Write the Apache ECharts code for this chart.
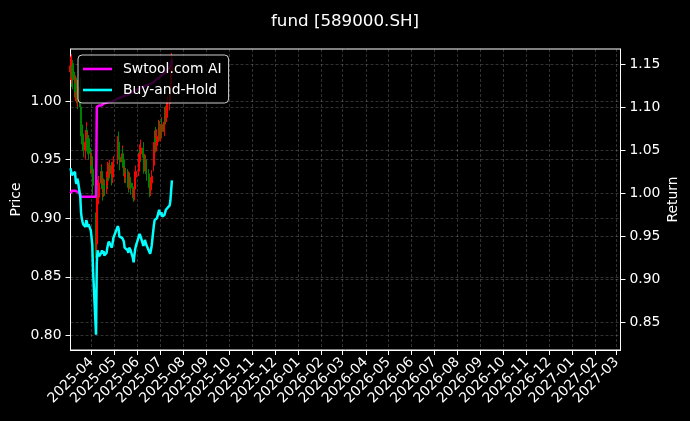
<!DOCTYPE html>
<html><head><meta charset="utf-8">
<script src="https://cdn.jsdelivr.net/npm/echarts@6/dist/echarts.min.js"></script>
<style>html,body{margin:0;padding:0;background:#000;}#c{width:690px;height:421px;}</style>
</head><body><div id="c"></div>
<script>
// ---- data ----
const tradeDates = [
'2025-03-04','2025-03-05','2025-03-06','2025-03-07',
'2025-03-10','2025-03-11','2025-03-12','2025-03-13','2025-03-14',
'2025-03-17','2025-03-18','2025-03-19','2025-03-20','2025-03-21',
'2025-03-24','2025-03-25','2025-03-26','2025-03-27','2025-03-28',
'2025-03-31','2025-04-01','2025-04-02','2025-04-03',
'2025-04-07','2025-04-08','2025-04-09','2025-04-10','2025-04-11',
'2025-04-14','2025-04-15','2025-04-16','2025-04-17','2025-04-18',
'2025-04-21','2025-04-22','2025-04-23','2025-04-24','2025-04-25',
'2025-04-28','2025-04-29','2025-04-30',
'2025-05-06','2025-05-07','2025-05-08','2025-05-09',
'2025-05-12','2025-05-13','2025-05-14','2025-05-15','2025-05-16',
'2025-05-19','2025-05-20','2025-05-21','2025-05-22','2025-05-23',
'2025-05-26','2025-05-27','2025-05-28','2025-05-29','2025-05-30',
'2025-06-03','2025-06-04','2025-06-05','2025-06-06',
'2025-06-09','2025-06-10','2025-06-11','2025-06-12','2025-06-13',
'2025-06-16','2025-06-17','2025-06-18','2025-06-19','2025-06-20',
'2025-06-23','2025-06-24','2025-06-25','2025-06-26','2025-06-27',
'2025-06-30','2025-07-01','2025-07-02','2025-07-03','2025-07-04',
'2025-07-07','2025-07-08','2025-07-09','2025-07-10','2025-07-11',
'2025-07-14','2025-07-15','2025-07-16','2025-07-17'];

const openPrice = [
1.025,1.030,1.020,1.032,
1.018,1.010,1.015,1.008,1.000,
1.012,0.995,0.978,0.972,0.965,
0.958,0.965,0.975,0.962,0.968,
0.955,0.945,0.950,0.942,
0.900,0.878,0.915,0.928,0.918,
0.930,0.940,0.932,0.922,0.928,
0.925,0.935,0.932,0.942,0.938,
0.945,0.935,0.940,
0.950,0.965,0.958,0.952,
0.948,0.955,0.950,0.942,0.935,
0.938,0.932,0.928,0.935,0.930,
0.926,0.922,0.918,0.925,0.935,
0.940,0.950,0.958,0.955,
0.960,0.952,0.945,0.950,0.944,
0.938,0.932,0.928,0.924,0.930,
0.945,0.960,0.968,0.965,0.962,
0.970,0.978,0.972,0.975,0.980,
0.974,0.982,0.990,0.986,0.995,
0.998,1.005,1.012,1.025];

const closePrice = [
1.030,1.020,1.032,1.018,
1.010,1.015,1.008,1.000,1.012,
0.995,0.978,0.972,0.965,0.958,
0.965,0.975,0.962,0.968,0.955,
0.945,0.950,0.942,0.928,
0.876,0.915,0.928,0.918,0.930,
0.940,0.932,0.922,0.928,0.925,
0.935,0.932,0.942,0.938,0.945,
0.935,0.940,0.948,
0.965,0.958,0.952,0.948,
0.955,0.950,0.942,0.935,0.938,
0.932,0.928,0.935,0.930,0.926,
0.922,0.918,0.925,0.935,0.940,
0.950,0.958,0.955,0.960,
0.952,0.945,0.950,0.944,0.938,
0.932,0.928,0.924,0.930,0.936,
0.960,0.968,0.965,0.962,0.970,
0.978,0.972,0.975,0.980,0.974,
0.982,0.990,0.986,0.995,0.998,
1.005,1.012,1.025,1.036];

const lowPrice = [
1.018,1.012,1.015,1.010,
1.003,1.000,0.998,0.993,0.995,
0.988,0.970,0.963,0.958,0.952,
0.950,0.960,0.957,0.955,0.950,
0.938,0.938,0.935,0.920,
0.866,0.872,0.905,0.912,0.912,
0.925,0.926,0.915,0.918,0.919,
0.921,0.926,0.928,0.932,0.934,
0.928,0.930,0.936,
0.946,0.950,0.945,0.941,
0.943,0.944,0.936,0.930,0.930,
0.926,0.922,0.924,0.925,0.920,
0.917,0.914,0.915,0.921,0.930,
0.936,0.946,0.948,0.950,
0.946,0.938,0.940,0.938,0.932,
0.926,0.922,0.918,0.919,0.926,
0.940,0.955,0.958,0.956,0.957,
0.965,0.966,0.966,0.970,0.968,
0.970,0.978,0.980,0.982,0.988,
0.992,1.000,1.008,1.020];

const highPrice = [
1.038,1.036,1.040,1.035,
1.025,1.022,1.020,1.012,1.018,
1.020,0.999,0.985,0.980,0.970,
0.975,0.982,0.978,0.974,0.971,
0.960,0.956,0.953,0.945,
0.905,0.920,0.933,0.936,0.936,
0.946,0.944,0.936,0.934,0.933,
0.940,0.940,0.948,0.947,0.950,
0.948,0.945,0.953,
0.970,0.974,0.964,0.958,
0.962,0.960,0.955,0.947,0.943,
0.942,0.937,0.940,0.939,0.934,
0.930,0.927,0.930,0.940,0.945,
0.956,0.963,0.962,0.967,
0.965,0.957,0.955,0.954,0.948,
0.942,0.937,0.933,0.935,0.941,
0.965,0.975,0.978,0.972,0.976,
0.984,0.983,0.980,0.986,0.985,
0.988,0.995,0.996,1.000,1.004,
1.010,1.018,1.030,1.041];

const aiReturn = [
1.000,1.002,1.003,1.002,
1.003,1.002,1.003,1.002,1.002,
0.999,0.996,0.996,0.996,0.996,
0.996,0.996,0.996,0.996,0.996,
0.996,0.996,0.996,0.996,
0.996,1.100,1.101,1.100,1.102,
1.102,1.103,1.102,1.104,1.104,
1.105,1.105,1.106,1.106,1.107,
1.106,1.107,1.108,
1.110,1.111,1.110,1.111,
1.112,1.112,1.113,1.113,1.114,
1.114,1.115,1.115,1.116,1.116,
1.117,1.117,1.118,1.119,1.120,
1.121,1.122,1.122,1.123,
1.123,1.124,1.124,1.125,1.125,
1.126,1.126,1.127,1.127,1.128,
1.129,1.130,1.131,1.132,1.132,
1.134,1.135,1.136,1.137,1.137,
1.139,1.140,1.141,1.143,1.144,
1.146,1.148,1.151,1.155];

const holdReturn = [
1.029,1.027,1.021,1.019,
1.025,1.014,1.011,1.017,1.014,
0.996,0.978,0.971,0.967,0.964,
0.961,0.969,0.966,0.961,0.964,
0.957,0.949,0.940,0.911,
0.836,0.920,0.934,0.932,0.927,
0.931,0.934,0.930,0.933,0.928,
0.931,0.937,0.941,0.944,0.946,
0.937,0.942,0.948,
0.962,0.959,0.950,0.948,
0.948,0.950,0.944,0.937,0.939,
0.934,0.931,0.937,0.938,0.934,
0.925,0.920,0.928,0.935,0.939,
0.950,0.953,0.952,0.948,
0.939,0.942,0.946,0.944,0.940,
0.934,0.932,0.930,0.934,0.939,
0.963,0.969,0.968,0.967,0.971,
0.981,0.975,0.976,0.978,0.973,
0.975,0.978,0.981,0.983,0.983,
0.986,0.992,1.004,1.015];

const priceTicks = [0.80, 0.85, 0.90, 0.95, 1.00];
const returnTicks = [0.85, 0.90, 0.95, 1.00, 1.05, 1.10, 1.15];
const axisStart = '2025-03-04';
const axisEnd = '2027-03-06';
const seriesNames = ['Swtool.com AI', 'Buy-and-Hold'];

// ---- build calendar-day category axis ----
const days = [];
{
  const s = Date.parse(axisStart + 'T00:00:00Z'), e = Date.parse(axisEnd + 'T00:00:00Z');
  for (let t = s; t <= e; t += 86400000) days.push(new Date(t).toISOString().slice(0, 10));
}
const pos = {};
days.forEach((d, i) => pos[d] = i);
const candleData = days.map(() => '-');
const aiData = days.map(() => '-');
const holdData = days.map(() => '-');
tradeDates.forEach((d, i) => {
  const k = pos[d];
  candleData[k] = [openPrice[i], closePrice[i], lowPrice[i], highPrice[i]];
  aiData[k] = aiReturn[i];
  holdData[k] = holdReturn[i];
});
const isMonthStart = (idx, v) => typeof v === 'string' && v.slice(8) === '01';

const font = 'DejaVu Sans';
const fs = 13.9;
const gridLine = { show: true, lineStyle: { color: 'rgba(255,255,255,0.28)', type: [3, 2], width: 0.7 } };

const chart = echarts.init(document.getElementById('c'), null, { renderer: 'canvas' });
chart.setOption({
  backgroundColor: '#000',
  animation: false,
  textStyle: { fontFamily: font },
  title: {
    text: 'fund [589000.SH]', left: 'center', top: 8,
    textStyle: { color: '#fff', fontSize: 16.7, fontWeight: 'normal', fontFamily: font }
  },
  legend: {
    orient: 'vertical', left: 78, top: 55,
    data: seriesNames.map(n => ({ name: n, icon: 'rect' })),
    itemWidth: 29, itemHeight: 2.6, itemGap: 5,
    padding: [6, 7, 5, 5],
    backgroundColor: 'rgba(0,0,0,0.8)',
    borderColor: 'rgba(255,255,255,0.8)', borderWidth: 1, borderRadius: 4,
    textStyle: { color: '#fff', fontSize: fs, fontFamily: font, padding: [0, 0, 0, 6], lineHeight: 16 }
  },
  grid: { left: 70.5, right: 69.5, top: 49, bottom: 71, outerBoundsMode: 'none', containLabel: false,
    show: true, borderColor: '#fff', borderWidth: 1, backgroundColor: 'transparent' },
  xAxis: {
    type: 'category', data: days, boundaryGap: false,
    axisLine: { lineStyle: { color: '#fff', width: 1 } },
    axisTick: { interval: isMonthStart, length: 5, lineStyle: { color: '#fff' } },
    axisLabel: { interval: isMonthStart, rotate: 45, color: '#fff', fontSize: fs, fontFamily: font, margin: 10,
      formatter: v => v.slice(0, 7) },
    splitLine: Object.assign({ interval: isMonthStart }, gridLine)
  },
  yAxis: [
    {
      type: 'value', position: 'left', min: 0.7876, max: 1.0444,
      name: 'Price', nameLocation: 'middle', nameGap: 47, nameMoveOverlap: false,
      nameTextStyle: { color: '#fff', fontSize: fs, fontFamily: font },
      axisLine: { show: true, lineStyle: { color: '#fff' } },
      axisTick: { show: true, length: 5, customValues: priceTicks, lineStyle: { color: '#fff' } },
      axisLabel: { color: '#fff', fontSize: fs, fontFamily: font, margin: 9, customValues: priceTicks,
        formatter: v => v.toFixed(2) },
      splitLine: gridLine
    },
    {
      type: 'value', position: 'right', min: 0.8183, max: 1.1674,
      name: 'Return', nameLocation: 'middle', nameGap: 46, nameMoveOverlap: false,
      nameTextStyle: { color: '#fff', fontSize: fs, fontFamily: font },
      axisLine: { show: true, lineStyle: { color: '#fff' } },
      axisTick: { show: true, length: 5, customValues: returnTicks, lineStyle: { color: '#fff' } },
      axisLabel: { color: '#fff', fontSize: fs, fontFamily: font, margin: 9, customValues: returnTicks,
        formatter: v => v.toFixed(2) },
      splitLine: gridLine
    }
  ],
  series: [
    {
      type: 'candlestick', name: 'Price', yAxisIndex: 0, large: false,
      barWidth: 1.6,
      data: candleData,
      itemStyle: { color: '#ff0000', color0: '#008000', borderColor: '#ff0000', borderColor0: '#008000', borderWidth: 1 }
    },
    {
      type: 'line', name: seriesNames[0], yAxisIndex: 1, data: aiData, connectNulls: true,
      symbol: 'none', lineStyle: { color: '#ff00ff', width: 2.5 }, itemStyle: { color: '#ff00ff' }, z: 3
    },
    {
      type: 'line', name: seriesNames[1], yAxisIndex: 1, data: holdData, connectNulls: true,
      symbol: 'none', lineStyle: { color: '#00ffff', width: 2.5 }, itemStyle: { color: '#00ffff' }, z: 3
    }
  ]
});
</script>
</body></html>
